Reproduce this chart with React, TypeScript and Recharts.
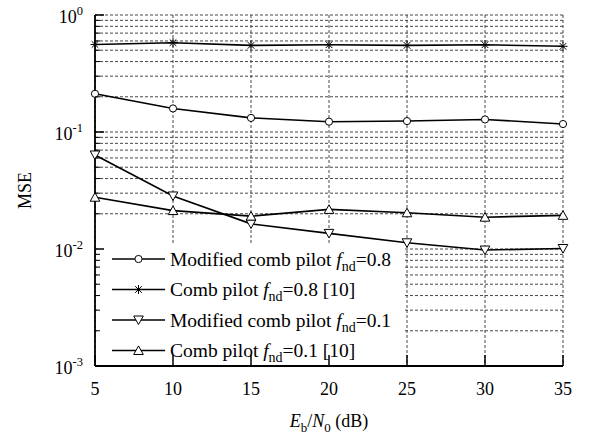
import React from "react";
import { LineChart, Line, XAxis, YAxis, CartesianGrid } from "recharts";

// Eb/N0 in dB
const snr = [5, 10, 15, 20, 25, 30, 35];
const modified08 = [0.212, 0.159, 0.132, 0.1225, 0.124, 0.128, 0.117];
const comb08 = [0.56, 0.58, 0.55, 0.557, 0.55, 0.557, 0.54];
const modified01 = [0.0636, 0.0284, 0.0164, 0.0136, 0.0113, 0.0098, 0.0101];
const comb01 = [0.0277, 0.0213, 0.0191, 0.0218, 0.0204, 0.0187, 0.0194];

const xTicks = [5, 10, 15, 20, 25, 30, 35];
const yTicks = [
  0.001, 0.002, 0.003, 0.004, 0.005, 0.006, 0.007, 0.008, 0.009,
  0.01, 0.02, 0.03, 0.04, 0.05, 0.06, 0.07, 0.08, 0.09,
  0.1, 0.2, 0.3, 0.4, 0.5, 0.6, 0.7, 0.8, 0.9,
  1,
];
const decadeTicks = [0.001, 0.01, 0.1, 1];
const decadeLabels = ["-3", "-2", "-1", "0"];

const legendItems = [
  { key: "m08", marker: "circle", prefix: "Modified comb pilot ", suffix: "=0.8" },
  { key: "c08", marker: "star", prefix: "Comb pilot ", suffix: "=0.8 [10]" },
  { key: "m01", marker: "down", prefix: "Modified comb pilot ", suffix: "=0.1" },
  { key: "c01", marker: "up", prefix: "Comb pilot ", suffix: "=0.1 [10]" },
];

const data = snr.map((x, i) => ({
  x,
  m08: modified08[i],
  c08: comb08[i],
  m01: modified01[i],
  c01: comb01[i],
}));

const FONT = "Liberation Serif, Times New Roman, Times, DejaVu Serif, serif";
const INK = "#000";
const txt = { fontFamily: FONT };

function marker(kind: string, cx: number, cy: number, key?: any) {
  if (kind === "circle") {
    return <circle key={key} cx={cx} cy={cy} r={3.6} fill="#fff" stroke={INK} strokeWidth={1} />;
  }
  if (kind === "star") {
    const s = 4.5;
    const d = 3.3;
    return (
      <g key={key} stroke={INK} strokeWidth={1}>
        <line x1={cx - s} y1={cy} x2={cx + s} y2={cy} />
        <line x1={cx} y1={cy - s} x2={cx} y2={cy + s} />
        <line x1={cx - d} y1={cy - d} x2={cx + d} y2={cy + d} />
        <line x1={cx - d} y1={cy + d} x2={cx + d} y2={cy - d} />
      </g>
    );
  }
  if (kind === "down") {
    return (
      <polygon key={key} points={`${cx - 4.8},${cy - 4} ${cx + 4.8},${cy - 4} ${cx},${cy + 4.6}`}
        fill="#fff" stroke={INK} strokeWidth={1} />
    );
  }
  return (
    <polygon key={key} points={`${cx - 4.8},${cy + 4} ${cx + 4.8},${cy + 4} ${cx},${cy - 4.6}`}
      fill="#fff" stroke={INK} strokeWidth={1} />
  );
}

const dotFor = (kind: string) => (p: any) => marker(kind, p.cx, p.cy, `${kind}-${p.index}`);

const isDecade = (v: number) => decadeTicks.some((d) => Math.abs(d - v) < 1e-9);

const LeftTick = (p: any) => {
  const { x, y, payload } = p;
  const v = payload.value;
  const major = isDecade(v);
  const idx = decadeTicks.findIndex((d) => Math.abs(d - v) < 1e-9);
  return (
    <g>
      <line x1={x} y1={y} x2={x + (major ? 9 : 5)} y2={y} stroke={INK} strokeWidth={major ? 1.5 : 1} />
      {major && (
        <text x={x - 12} y={y + 8} textAnchor="end" style={txt} fontSize={18} fill={INK}>
          10<tspan dy={-8} fontSize={12.5}>{decadeLabels[idx]}</tspan>
        </text>
      )}
    </g>
  );
};

const RightTick = (p: any) => {
  const { x, y, payload } = p;
  const major = isDecade(payload.value);
  return <line x1={x} y1={y} x2={x - (major ? 9 : 5)} y2={y} stroke={INK} strokeWidth={major ? 1.5 : 1} />;
};

const BottomTick = (p: any) => {
  const { x, y, payload } = p;
  return (
    <g>
      <line x1={x} y1={y} x2={x} y2={y - 11} stroke={INK} strokeWidth={1.5} />
      <text x={x} y={y + 29} textAnchor="middle" style={txt} fontSize={18} fill={INK}>
        {payload.value}
      </text>
    </g>
  );
};

const TopTick = (p: any) => {
  const { x, y } = p;
  return <line x1={x} y1={y} x2={x} y2={y + 10} stroke={INK} strokeWidth={1.5} />;
};

const XTitle = (p: any) => {
  const vb = p.viewBox || { x: 95, y: 366, width: 468 };
  const cx = vb.x + vb.width / 2;
  return (
    <text x={cx} y={vb.y + 61} textAnchor="middle" style={txt} fontSize={18} fill={INK}>
      <tspan fontStyle="italic">E</tspan>
      <tspan dy={5} fontSize={13}>b</tspan>
      <tspan dy={-5}>/</tspan>
      <tspan fontStyle="italic">N</tspan>
      <tspan dy={5} fontSize={13}>0</tspan>
      <tspan dy={-5}> (dB)</tspan>
    </text>
  );
};

const YTitle = (p: any) => {
  const vb = p.viewBox || { x: 0, y: 15, height: 351 };
  const cy = vb.y + vb.height / 2;
  return (
    <text x={31} y={cy} transform={`rotate(-90 31 ${cy})`} textAnchor="middle"
      style={txt} fontSize={18} fill={INK}>
      MSE
    </text>
  );
};

const LegendBox = () => {
  const left = 97;
  const top = 244;
  const rowY = [259, 289.5, 320, 350.5];
  return (
    <g>
      <rect x={left} y={top} width={308} height={121} fill="#fff" />
      {legendItems.map((it, i) => {
        const y = rowY[i];
        return (
          <g key={it.key}>
            <line x1={112} y1={y} x2={165} y2={y} stroke={INK} strokeWidth={1.6} />
            {marker(it.marker, 138.5, y)}
            <text x={170} y={y + 6.5} style={txt} fontSize={19.5} fill={INK}>
              {it.prefix}
              <tspan fontStyle="italic">f</tspan>
              <tspan dy={5} fontSize={14}>nd</tspan>
              <tspan dy={-5}>{it.suffix}</tspan>
            </text>
          </g>
        );
      })}
    </g>
  );
};

export default function App() {
  return (
    <div style={{ position: "absolute", left: 0, top: 0, width: 589, height: 434, background: "#fff", fontFamily: FONT }}>
      <LineChart width={589} height={434} data={data} margin={{ top: 15, right: 26, bottom: 0, left: 0 }}>
        <CartesianGrid stroke="#333" strokeWidth={0.9} strokeDasharray="3 2" />
        <Line dataKey="c08" stroke={INK} strokeWidth={1.6} dot={dotFor("star")} isAnimationActive={false} />
        <Line dataKey="m08" stroke={INK} strokeWidth={1.6} dot={dotFor("circle")} isAnimationActive={false} />
        <Line dataKey="m01" stroke={INK} strokeWidth={1.6} dot={dotFor("down")} isAnimationActive={false} />
        <Line dataKey="c01" stroke={INK} strokeWidth={1.6} dot={dotFor("up")} isAnimationActive={false} />
        <LegendBox />
        <XAxis
          dataKey="x"
          type="number"
          domain={[5, 35]}
          ticks={xTicks}
          interval={0}
          height={68}
          tickSize={0}
          tickMargin={0}
          tickLine={false}
          axisLine={{ stroke: INK, strokeWidth: 1.8 }}
          tick={<BottomTick />}
          label={{ content: <XTitle /> }}
        />
        <XAxis
          xAxisId="top"
          orientation="top"
          dataKey="x"
          type="number"
          domain={[5, 35]}
          ticks={xTicks}
          interval={0}
          height={0}
          tickSize={0}
          tickMargin={0}
          tickLine={false}
          axisLine={{ stroke: INK, strokeWidth: 1.8 }}
          tick={<TopTick />}
        />
        <YAxis
          type="number"
          scale="log"
          domain={[0.001, 1]}
          allowDataOverflow
          ticks={yTicks}
          interval={0}
          width={95}
          tickSize={0}
          tickMargin={0}
          tickLine={false}
          axisLine={{ stroke: INK, strokeWidth: 1.8 }}
          tick={<LeftTick />}
          label={{ content: <YTitle /> }}
        />
        <YAxis
          yAxisId="right"
          orientation="right"
          type="number"
          scale="log"
          domain={[0.001, 1]}
          allowDataOverflow
          ticks={yTicks}
          interval={0}
          width={0}
          tickSize={0}
          tickMargin={0}
          tickLine={false}
          axisLine={{ stroke: INK, strokeWidth: 1.8 }}
          tick={<RightTick />}
        />
      </LineChart>
    </div>
  );
}
